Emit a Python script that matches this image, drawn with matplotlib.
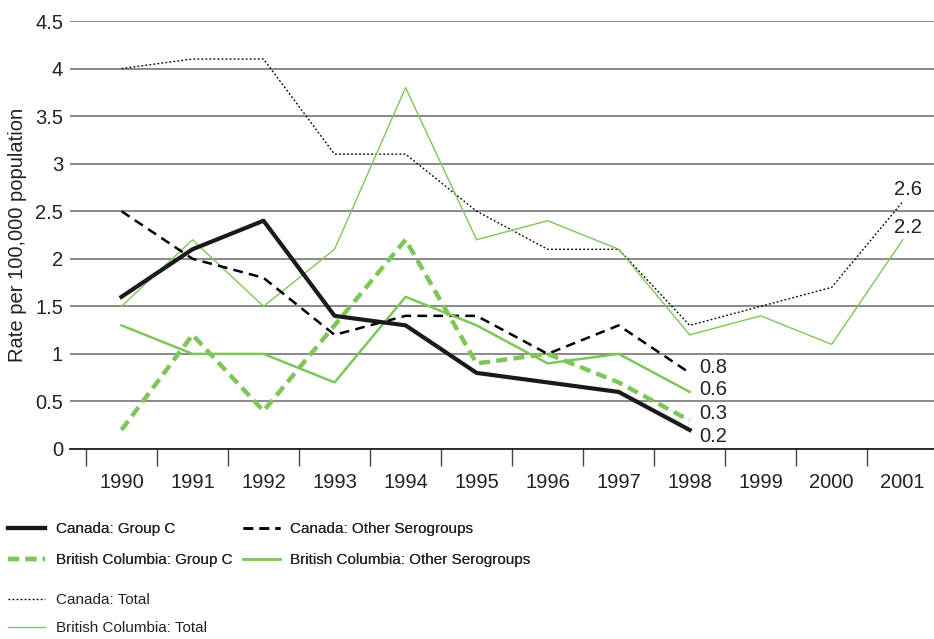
import matplotlib.pyplot as plt
import numpy as np

plt.rcParams['font.family'] = ['Liberation Sans', 'DejaVu Sans']
plt.rcParams['lines.scale_dashes'] = False

years = ['1990', '1991', '1992', '1993', '1994', '1995',
         '1996', '1997', '1998', '1999', '2000', '2001']

canada_group_c = [1.6, 2.1, 2.4, 1.4, 1.3, 0.8, 0.7, 0.6, 0.2]
canada_other = [2.5, 2.0, 1.8, 1.2, 1.4, 1.4, 1.0, 1.3, 0.8]
bc_group_c = [0.2, 1.2, 0.4, 1.3, 2.2, 0.9, 1.0, 0.7, 0.3]
bc_other = [1.3, 1.0, 1.0, 0.7, 1.6, 1.3, 0.9, 1.0, 0.6]
canada_total = [4.0, 4.1, 4.1, 3.1, 3.1, 2.5, 2.1, 2.1, 1.3, 1.5, 1.7, 2.6]
bc_total = [1.5, 2.2, 1.5, 2.1, 3.8, 2.2, 2.4, 2.1, 1.2, 1.4, 1.1, 2.2]

GREEN = '#7fc65a'

fig = plt.figure(figsize=(9.34, 6.39), dpi=100)
ax = fig.add_axes([70/934, 1 - 449/639, 1 - 70/934, 428/639])

x_all = np.arange(len(years))
x9 = np.arange(len(canada_group_c))

l_ctot, = ax.plot(x_all, canada_total, color='black', lw=1.0, ls=(0, (1.3, 1.6)))
l_btot, = ax.plot(x_all, bc_total, color=GREEN, lw=1.0)
l_coth, = ax.plot(x9, canada_other, color='black', lw=1.8, ls=(0, (7, 4.5)))
l_both, = ax.plot(x9, bc_other, color=GREEN, lw=1.8)
l_bc, = ax.plot(x9, bc_group_c, color=GREEN, lw=3.2, ls=(0, (8, 4.5)))
l_cc, = ax.plot(x9, canada_group_c, color='#1a1a1a', lw=3.0)

# end labels
fs = 14.5
for series, dy in [(canada_other, 4), (bc_other, 2), (bc_group_c, 5), (canada_group_c, -5)]:
    ax.annotate(f'{series[-1]:.1f}', xy=(x9[-1], series[-1]), xytext=(7, dy),
                textcoords='offset points', ha='left', va='center', fontsize=fs, color='#222222')
for series in [canada_total, bc_total]:
    ax.annotate(f'{series[-1]:.1f}', xy=(x_all[-1], series[-1]), xytext=(-6, 8.5),
                textcoords='offset points', ha='left', va='center', fontsize=fs, color='#222222')

ax.set_xlim(-0.725, 11.44)
ax.set_ylim(0, 4.5)
ax.set_yticks(np.arange(0, 4.51, 0.5))
ax.set_yticklabels(['0', '0.5', '1', '1.5', '2', '2.5', '3', '3.5', '4', '4.5'])
ax.set_xticks(x_all)
ax.set_xticklabels(years)
ax.set_xticks(np.arange(-0.5, 11.5, 1), minor=True)
ax.tick_params(axis='x', which='major', length=0, pad=17, labelsize=fs, labelcolor='#222222')
ax.tick_params(axis='x', which='minor', length=12, width=1.0, color='#444444')
ax.tick_params(axis='y', length=0, pad=5, labelsize=fs, labelcolor='#222222')
ax.yaxis.grid(True, color='#808080', lw=1.3)
ax.set_axisbelow(True)
for s in ['top', 'right', 'left']:
    ax.spines[s].set_visible(False)
ax.spines['bottom'].set_color('#222222')
ax.spines['bottom'].set_linewidth(1.3)
ax.set_ylabel('Rate per 100,000 population', fontsize=fs, color='#222222')
ax.yaxis.set_label_coords(-0.050, 0.5)

leg_font = {'size': 11}
leg1 = fig.legend([l_cc, l_bc, l_coth, l_both],
                  ['Canada: Group C', 'British Columbia: Group C',
                   'Canada: Other Serogroups', 'British Columbia: Other Serogroups'],
                  ncol=2, loc='upper left', bbox_to_anchor=(8/934, 1 - 522/639),
                  frameon=False, prop=leg_font, handlelength=2.42, handletextpad=0.72,
                  columnspacing=0.65, labelspacing=1.13, borderaxespad=0, borderpad=0,
                  labelcolor='#222222')
fig.add_artist(leg1)
fig.legend([l_ctot, l_btot], ['Canada: Total', 'British Columbia: Total'],
           loc='upper left', bbox_to_anchor=(8/934, 1 - 593/639),
           frameon=False, prop=leg_font, handlelength=2.42, handletextpad=0.72,
           labelspacing=0.94, borderaxespad=0, borderpad=0, labelcolor='#222222')

fig.savefig('out.png', dpi=100)
